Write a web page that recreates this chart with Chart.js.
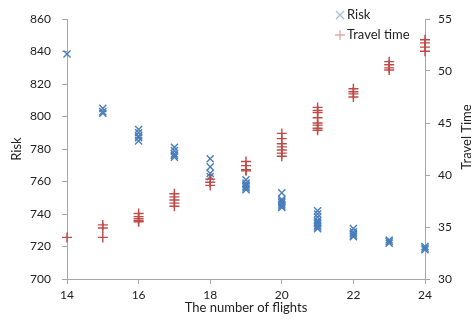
<!DOCTYPE html>
<html>
<head>
<meta charset="utf-8">
<script src="https://cdn.jsdelivr.net/npm/chart.js@4.4.0/dist/chart.umd.min.js"></script>
<style>
html, body { margin: 0; padding: 0; background: #fff; }
#wrap { width: 475px; height: 320px; }
</style>
</head>
<body>
<div id="wrap"><canvas id="flightsChart"></canvas></div>
<script>
// Dữ liệu
const flights = [14, 15, 16, 17, 18, 19, 20, 21, 22, 23, 24];
const riskValues = [
    [838.5],
    [805, 803, 802],
    [792, 790, 788, 787, 785],
    [781, 779, 777, 776, 775],
    [774, 769, 765, 763],
    [761, 759, 758, 757, 756, 755],
    [753, 749, 748, 747, 746, 745, 744],
    [742, 740, 738, 736, 735, 734, 733, 732, 731],
    [731, 729, 728, 727, 726],
    [724, 723, 722],
    [720, 719, 718]
];
const travelValues = [
    [34.0],
    [35.2, 34.9, 34.0],
    [36.3, 36.0, 35.8, 35.6, 35.5],
    [38.2, 37.9, 37.6, 37.3, 37.0],
    [39.6, 39.3, 39.0],
    [41.3, 40.9, 40.5, 40.4],
    [44.0, 43.5, 43.0, 42.7, 42.4, 42.1, 41.8],
    [46.5, 46.2, 46.0, 45.5, 45.0, 44.8, 44.5, 44.3],
    [48.3, 48.0, 47.8, 47.5],
    [50.9, 50.6, 50.3, 50.1],
    [53.0, 52.7, 52.3, 51.9]
];
const xTicks = { min: 14, max: 24, step: 2 };
const riskTicks = { min: 700, max: 860, step: 20 };
const travelTicks = { min: 30, max: 55, step: 5 };

const toPoints = (groups) => flights.flatMap((f, i) => groups[i].map(v => ({ x: f, y: v })));

Chart.defaults.font.family = "Lato, 'Liberation Sans', sans-serif";
Chart.defaults.font.size = 12;
Chart.defaults.color = '#222';

const axisColor = '#a6a6a6';

// Chú giải và tiêu đề trục phải tự vẽ
const extras = {
    id: 'extras',
    afterDraw(chart) {
        const ctx = chart.ctx;
        ctx.save();
        // legend
        ctx.lineWidth = 1.3;
        ctx.strokeStyle = '#aabfdc';
        ctx.beginPath();
        ctx.moveTo(336, 11); ctx.lineTo(344, 19);
        ctx.moveTo(344, 11); ctx.lineTo(336, 19);
        ctx.stroke();
        ctx.strokeStyle = '#e0a9a7';
        ctx.beginPath();
        ctx.moveTo(335, 35); ctx.lineTo(345, 35);
        ctx.moveTo(340, 30); ctx.lineTo(340, 40);
        ctx.stroke();
        ctx.fillStyle = '#222';
        ctx.font = '13px Lato';
        ctx.textBaseline = 'middle';
        ctx.textAlign = 'left';
        ctx.fillText('Risk', 347, 15);
        ctx.fillText('Travel time', 347, 35);
        // right axis title
        ctx.translate(467, 137);
        ctx.rotate(-Math.PI / 2);
        ctx.textAlign = 'center';
        ctx.fillText('Travel Time', 0, 0);
        ctx.restore();
    }
};

const ctx = document.getElementById('flightsChart').getContext('2d');
new Chart(ctx, {
    type: 'scatter',
    data: {
        datasets: [
            {
                label: 'Travel time',
                data: toPoints(travelValues),
                yAxisID: 'y1',
                clip: false,
                pointStyle: 'cross',
                pointRadius: 5,
                pointBorderWidth: 1.4,
                borderColor: '#be4b48',
                backgroundColor: '#be4b48'
            },
            {
                label: 'Risk',
                data: toPoints(riskValues),
                yAxisID: 'y',
                clip: false,
                pointStyle: 'crossRot',
                pointRadius: 5,
                pointBorderWidth: 1.4,
                borderColor: '#4a7ebb',
                backgroundColor: '#4a7ebb'
            }
        ]
    },
    options: {
        responsive: true,
        maintainAspectRatio: false,
        animation: false,
        layout: { padding: { top: 19, left: 0, right: 0, bottom: 0 } },
        plugins: {
            legend: { display: false },
            tooltip: { enabled: false }
        },
        scales: {
            x: {
                type: 'linear',
                min: xTicks.min,
                max: xTicks.max,
                ticks: { stepSize: xTicks.step, padding: 4 },
                grid: { drawOnChartArea: false, tickLength: 5, color: axisColor },
                border: { color: axisColor },
                title: { display: true, text: 'The number of flights', font: { size: 13 }, padding: { top: 2 } },
                afterFit: s => { s.height = 41; }
            },
            y: {
                position: 'left',
                min: riskTicks.min,
                max: riskTicks.max,
                ticks: { stepSize: riskTicks.step, padding: 11 },
                grid: { drawOnChartArea: false, tickLength: 5, color: axisColor },
                border: { color: axisColor },
                title: { display: true, text: 'Risk', font: { size: 13 }, padding: { top: 9, bottom: 0 } },
                afterFit: s => { s.width = 67; }
            },
            y1: {
                position: 'right',
                min: travelTicks.min,
                max: travelTicks.max,
                ticks: { stepSize: travelTicks.step, padding: 8 },
                grid: { drawOnChartArea: false, tickLength: 5, color: axisColor },
                border: { color: axisColor },
                afterFit: s => { s.width = 50; }
            }
        }
    },
    plugins: [extras]
});
</script>
</body>
</html>
